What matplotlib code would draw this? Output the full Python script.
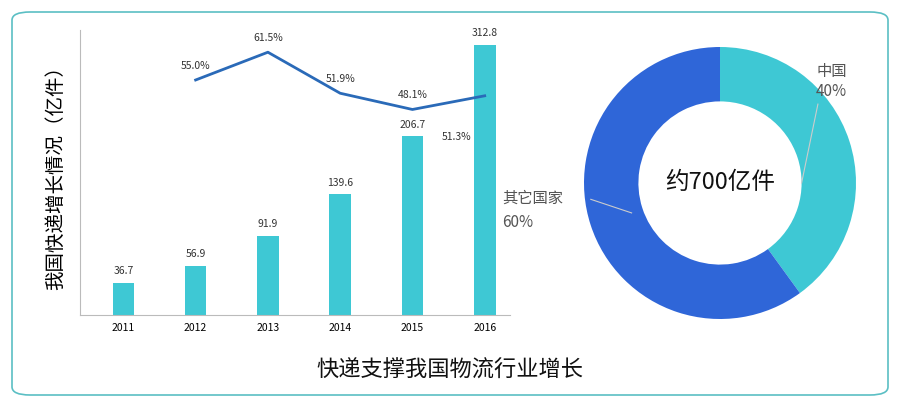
import matplotlib
matplotlib.use("Agg")
import matplotlib.pyplot as plt
from matplotlib.patches import FancyBboxPatch

plt.rcParams['font.family'] = ['Noto Sans CJK SC']

years = ['2011', '2012', '2013', '2014', '2015', '2016']
volumes = [36.7, 56.9, 91.9, 139.6, 206.7, 312.8]
growth_years = ['2012', '2013', '2014', '2015', '2016']
growth = [55.0, 61.5, 51.9, 48.1, 51.3]
pie_labels = ['中国', '其它国家']
pie_values = [40, 60]

W, H = 900, 407
fig = plt.figure(figsize=(9, 4.07), dpi=100)
fig.patches.append(FancyBboxPatch((12/W, 12/H), 876/W, 383/H, boxstyle="round,pad=0,rounding_size=0.02",
                                  transform=fig.transFigure, fill=False, ec='#5bbfc4', lw=1.2))

teal = '#3ec8d4'
blue = '#2f66d8'
ax = fig.add_axes([80/W, (H-315)/H, 430/W, 285/H])
x = list(range(len(years)))
ax.bar(x, volumes, width=0.3, color=teal)
for i, v in enumerate(volumes):
    ax.text(i, v + 8, f'{v}', ha='center', va='bottom', fontsize=7.5, color='#333')
ax.set_ylim(0, 330)
ax.set_xlim(-0.6, 5.35)
ax.set_xticks(x)
ax.set_xticklabels(years, fontsize=7.5)
ax.set_yticks([])
ax.tick_params(axis='x', length=0, pad=6)
for s in ['top', 'right']:
    ax.spines[s].set_visible(False)
ax.spines['left'].set_color('#bbb')
ax.spines['bottom'].set_color('#bbb')
ax.set_ylabel('我国快递增长情况（亿件）', fontsize=14, labelpad=10)

ax2 = ax.twinx()
gx = [years.index(y) for y in growth_years]
ax2.plot(gx, growth, color='#2a6ab8', lw=2)
ax2.set_ylim(0, 66.7)
ax2.axis('off')
offs = [(0, 8), (0, 8), (0, 8), (0, 8), (-20, -32)]
for xi, g, o in zip(gx, growth, offs):
    ax2.annotate(f'{g:.1f}%', (xi, g), xytext=o, textcoords='offset points',
                 ha='center', fontsize=7.5, color='#333')

R = 136
axp = fig.add_axes([(720-R)/W, (H-183-R)/H, 2*R/W, 2*R/H])
axp.pie(pie_values, colors=[teal, blue], startangle=90, counterclock=False,
        wedgeprops=dict(width=0.4, edgecolor='white', linewidth=0))
axp.set_xlim(-1, 1)
axp.set_ylim(-1, 1)
axp.set_aspect('equal')
axp.text(0, 0, '约700亿件', ha='center', va='center', fontsize=17, color='#111')
axp.text(0.82, 0.88, '中国\n40%', ha='center', va='top', fontsize=11, color='#555')
axp.text(-1.6, -0.2, '其它国家\n60%', ha='left', va='center', fontsize=11, color='#555', linespacing=1.6)
axp.plot([0.72, 0.6], [0.58, 0.0], color='#ccc', lw=0.8)
axp.plot([-0.95, -0.65], [-0.12, -0.22], color='#ccc', lw=0.8)

fig.text(450/W, (H-370)/H, '快递支撑我国物流行业增长', ha='center', va='center', fontsize=16, color='#111')
fig.savefig('out.png', dpi=100)
